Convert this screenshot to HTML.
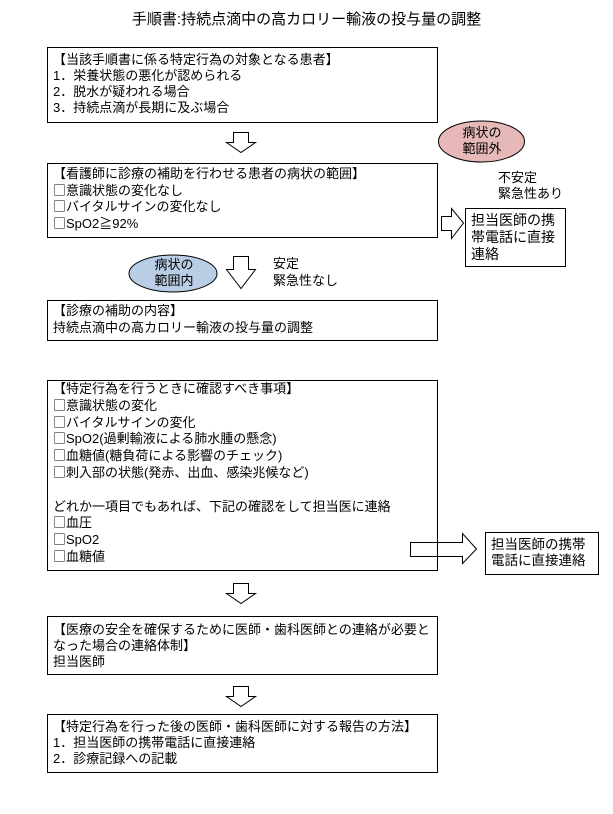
<!DOCTYPE html>
<html><head><meta charset="utf-8"><style>
body{margin:0;background:#fff;}
#c{position:relative;width:613px;height:814px;overflow:hidden;font-family:"Liberation Sans","Noto Sans CJK JP",sans-serif;color:#000;}
.b{position:absolute;border:1px solid #000;box-sizing:border-box;font-size:13px;line-height:16px;padding:3px 5px;white-space:nowrap;}
.t{position:absolute;font-size:13px;line-height:16px;white-space:nowrap;}
.q{font-family:"Noto Sans CJK JP",sans-serif;line-height:1px;}
svg{position:absolute;left:0;top:0;}
</style></head><body><div id="c">
<svg width="613" height="814">
<g fill="#fff" stroke="#000" stroke-width="1">
<polygon points="233.5,132.5 248.5,132.5 248.5,142.5 255.5,142.5 241,152.5 226.5,142.5 233.5,142.5"/>
<polygon points="233.5,256.5 248.5,256.5 248.5,269.5 255.5,269.5 241,288.5 226.5,269.5 233.5,269.5"/>
<polygon points="233.5,583.5 248.5,583.5 248.5,593.5 255.5,593.5 241,603.5 226.5,593.5 233.5,593.5"/>
<polygon points="233.5,686.5 248.5,686.5 248.5,696.5 255.5,696.5 241,706.5 226.5,696.5 233.5,696.5"/>
<polygon points="441.5,216.5 451.5,216.5 451.5,208.5 463.5,223 451.5,238.5 451.5,230.5 441.5,230.5"/>
<polygon points="410.5,542.5 462.5,542.5 462.5,533.5 476.5,549 462.5,563.5 462.5,556.5 410.5,556.5"/>
</g>
<ellipse cx="481.5" cy="141.5" rx="43" ry="20.5" fill="#e6b9b8" stroke="#000"/>
<ellipse cx="173" cy="273.5" rx="44" ry="18.5" fill="#b9cde5" stroke="#000"/>
</svg>
<div class="t" style="left:0;width:613px;top:11px;text-align:center;font-size:15px;line-height:18px;">手順書:持続点滴中の高カロリー輸液の投与量の調整</div>
<div class="b" style="left:47px;top:47px;width:391px;height:76px;padding-top:4px;">【当該手順書に係る特定行為の対象となる患者】<br>1．栄養状態の悪化が認められる<br>2．脱水が疑われる場合<br>3．持続点滴が長期に及ぶ場合</div>
<div class="t" style="left:459px;top:125px;width:46px;text-align:center;">病状の<br>範囲外</div>
<div class="b" style="left:47px;top:163px;width:391px;height:75px;padding-top:2px;line-height:16.5px;">【看護師に診療の補助を行わせる患者の病状の範囲】<br><span class="q">□</span>意識状態の変化なし<br><span class="q">□</span>バイタルサインの変化なし<br><span class="q">□</span>SpO2≧92%</div>
<div class="t" style="left:498px;top:170px;">不安定<br>緊急性あり</div>
<div class="b" style="left:465px;top:208px;width:101px;height:59px;font-size:14px;line-height:17px;padding-top:3px;">担当医師の携<br>帯電話に直接<br>連絡</div>
<div class="t" style="left:151px;top:257px;width:46px;text-align:center;">病状の<br>範囲内</div>
<div class="t" style="left:273px;top:255px;line-height:17px;">安定<br>緊急性なし</div>
<div class="b" style="left:47px;top:300px;width:391px;height:41px;padding-top:1px;line-height:17px;">【診療の補助の内容】<br>持続点滴中の高カロリー輸液の投与量の調整</div>
<div class="b" style="left:47px;top:380px;width:391px;height:191px;line-height:16.8px;padding-top:0px;">【特定行為を行うときに確認すべき事項】<br><span class="q">□</span>意識状態の変化<br><span class="q">□</span>バイタルサインの変化<br><span class="q">□</span>SpO2(過剰輸液による肺水腫の懸念)<br><span class="q">□</span>血糖値(糖負荷による影響のチェック)<br><span class="q">□</span>刺入部の状態(発赤、出血、感染兆候など)<br><br>どれか一項目でもあれば、下記の確認をして担当医に連絡<br><span class="q">□</span>血圧<br><span class="q">□</span>SpO2<br><span class="q">□</span>血糖値</div>
<div class="b" style="left:485px;top:532px;width:114px;height:43px;font-size:13.5px;line-height:16px;padding-top:4px;">担当医師の携帯<br>電話に直接連絡</div>
<div class="b" style="left:47px;top:616px;width:391px;height:59px;padding-top:5px;line-height:16px;">【医療の安全を確保するために医師・歯科医師との連絡が必要と<br>なった場合の連絡体制】<br>担当医師</div>
<div class="b" style="left:47px;top:714px;width:391px;height:59px;padding-top:4px;">【特定行為を行った後の医師・歯科医師に対する報告の方法】<br>1．担当医師の携帯電話に直接連絡<br>2．診療記録への記載</div>
</div></body></html>
